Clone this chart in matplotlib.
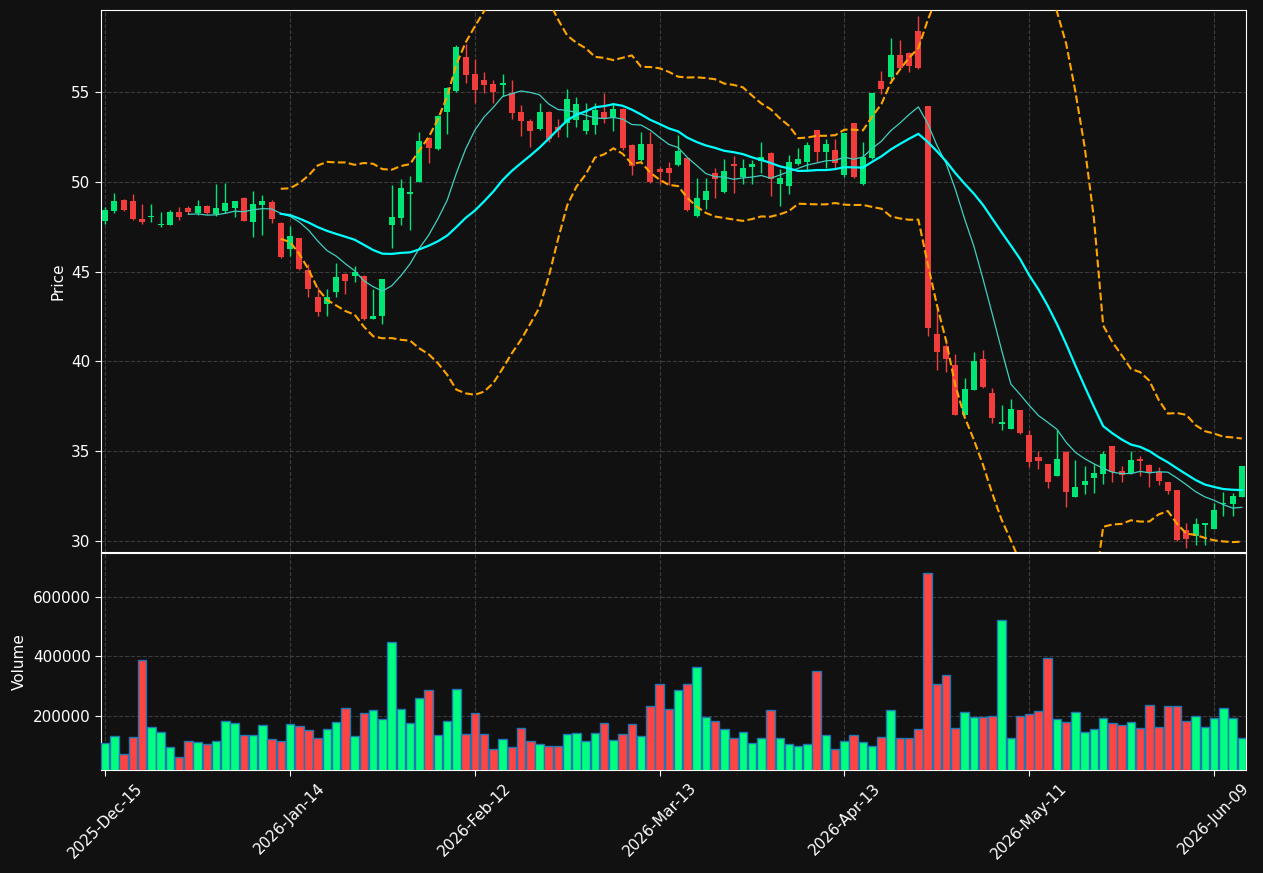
import numpy as np
import pandas as pd
import matplotlib
matplotlib.use("Agg")
import matplotlib.pyplot as plt

# ---------------- data ----------------
opens = [47.82, 48.37, 48.99, 48.93, 47.93, 48.04, 47.61, 47.61, 48.32, 48.54,
         48.24, 48.65, 48.19, 48.39, 48.56, 49.10, 47.76, 48.71, 48.88, 47.71,
         46.26, 46.87, 45.09, 43.59, 43.20, 43.86, 44.87, 44.77, 44.76, 42.38,
         42.54, 47.61, 48.00, 49.32, 50.00, 52.46, 51.84, 53.90, 55.07, 56.95,
         56.00, 55.67, 55.44, 55.41, 54.93, 53.88, 53.40, 52.96, 53.88, 53.03,
         53.29, 53.44, 52.85, 53.18, 53.88, 53.59, 54.04, 52.03, 51.21, 52.10,
         50.73, 50.77, 50.95, 51.31, 48.11, 48.99, 50.47, 49.45, 50.99, 50.25,
         50.84, 51.19, 51.60, 49.90, 49.77, 50.99, 51.12, 52.87, 51.68, 51.75,
         50.36, 53.26, 49.90, 51.34, 55.61, 55.85, 57.06, 57.19, 58.40, 54.22,
         41.53, 40.86, 39.80, 37.03, 38.42, 40.13, 38.24, 36.53, 36.25, 37.29,
         35.90, 34.69, 34.29, 33.64, 34.96, 32.47, 33.12, 33.52, 33.73, 35.29,
         33.90, 33.77, 34.55, 34.23, 33.86, 33.28, 32.84, 30.61, 30.30, 30.91,
         30.69, 32.04, 32.08, 32.47]
highs = [48.61, 49.36, 49.05, 49.30, 48.76, 48.76, 48.32, 48.46, 48.60, 48.65,
         49.00, 48.70, 49.88, 49.92, 48.95, 49.15, 49.49, 49.27, 49.00, 47.75,
         47.54, 46.90, 45.42, 44.13, 44.06, 45.50, 44.90, 45.32, 44.80, 44.02,
         44.61, 49.82, 50.14, 50.35, 52.80, 52.50, 53.70, 55.30, 57.60, 57.70,
         56.82, 56.10, 55.67, 56.00, 55.70, 54.30, 53.53, 54.37, 53.95, 53.50,
         55.15, 54.74, 54.40, 54.37, 54.94, 54.40, 54.10, 52.10, 52.80, 52.80,
         50.85, 51.10, 52.60, 51.35, 50.20, 50.20, 50.80, 51.30, 51.45, 51.30,
         51.20, 52.20, 51.65, 50.70, 51.50, 51.90, 52.20, 52.90, 52.40, 52.40,
         52.75, 53.30, 52.20, 54.95, 56.20, 58.00, 57.90, 57.25, 59.24, 54.25,
         43.00, 41.00, 40.40, 39.06, 40.50, 40.65, 38.50, 37.60, 37.90, 37.30,
         36.20, 35.00, 34.30, 36.17, 35.00, 34.50, 34.20, 34.30, 35.00, 35.30,
         34.20, 35.00, 34.76, 34.30, 34.10, 33.30, 32.85, 31.00, 31.30, 31.00,
         32.10, 32.75, 32.70, 34.20]
lows = [47.65, 48.28, 48.40, 47.87, 47.63, 47.78, 47.50, 47.61, 47.89, 48.21,
        48.15, 48.22, 48.11, 48.28, 48.04, 47.82, 46.94, 47.05, 47.70, 45.75,
        45.87, 45.09, 43.60, 42.53, 42.53, 43.60, 43.75, 44.42, 42.30, 42.35,
        42.07, 46.30, 47.60, 47.30, 50.00, 51.03, 51.80, 52.64, 55.00, 55.50,
        54.40, 54.95, 54.40, 54.80, 53.50, 52.57, 51.92, 52.90, 52.20, 52.50,
        52.51, 53.03, 52.66, 52.66, 53.30, 52.85, 51.80, 50.40, 51.15, 49.95,
        49.90, 49.80, 50.90, 48.40, 48.05, 48.50, 49.10, 49.40, 49.40, 49.90,
        49.90, 50.50, 49.20, 48.63, 49.35, 50.95, 50.60, 51.10, 50.80, 50.70,
        50.30, 50.20, 49.85, 51.30, 54.90, 55.60, 56.30, 56.10, 56.30, 41.43,
        39.50, 39.40, 37.00, 37.00, 38.40, 38.50, 36.60, 36.20, 36.25, 35.95,
        34.10, 34.00, 32.98, 33.60, 31.90, 32.45, 32.60, 32.70, 33.20, 33.30,
        33.30, 33.75, 33.60, 33.00, 33.10, 32.60, 30.00, 29.60, 29.80, 29.80,
        30.65, 31.40, 31.40, 32.45]
closes = [48.43, 48.93, 48.43, 47.93, 47.76, 48.12, 47.67, 48.32, 48.06, 48.30,
          48.65, 48.28, 48.54, 48.82, 48.93, 47.82, 48.76, 48.93, 47.93, 45.81,
          46.98, 45.14, 44.05, 42.75, 43.60, 44.72, 44.49, 44.98, 42.38, 42.53,
          44.59, 48.04, 49.65, 49.43, 52.27, 51.90, 53.66, 55.22, 57.50, 55.96,
          55.13, 55.41, 55.00, 55.50, 53.85, 53.40, 52.85, 53.88, 52.40, 52.88,
          54.59, 54.33, 53.44, 54.00, 53.51, 54.04, 51.88, 50.88, 52.10, 49.97,
          50.55, 50.51, 51.71, 48.45, 49.10, 49.49, 50.17, 50.60, 50.88, 50.77,
          50.99, 51.40, 50.17, 50.21, 51.10, 51.27, 52.05, 51.68, 52.10, 51.03,
          52.73, 50.30, 51.40, 54.94, 55.15, 57.06, 56.35, 56.46, 56.35, 41.88,
          40.54, 40.15, 37.03, 38.46, 40.02, 38.59, 36.87, 36.62, 37.35, 36.03,
          34.42, 34.47, 33.28, 34.56, 32.75, 33.01, 33.34, 33.79, 34.84, 33.86,
          33.67, 34.51, 34.44, 33.77, 33.34, 32.78, 30.06, 30.11, 30.95, 30.99,
          31.73, 32.13, 32.50, 34.18]
volumes = [109700, 133100, 72900, 129800, 387300, 163200, 146500, 96300, 62900, 116400,
           113000, 106400, 116400, 183300, 176600, 136500, 136500, 169900, 123100, 116400,
           173200, 166600, 153200, 126400, 156500, 179900, 226800, 133100, 210000, 220100,
           190000, 447500, 223400, 176600, 260200, 287000, 136500, 183300, 290300, 139800,
           210000, 139800, 89600, 123100, 96300, 159900, 116400, 106400, 99700, 99700,
           139800, 143100, 116400, 143100, 176600, 119700, 139800, 173200, 133100, 233400,
           307000, 223400, 287000, 307000, 363900, 196700, 183300, 156500, 126400, 146500,
           109700, 126400, 220100, 126400, 106400, 99700, 106400, 350500, 136500, 89600,
           116400, 136500, 113000, 99700, 129800, 220100, 126400, 126400, 156500, 678300,
           307000, 337100, 159900, 213400, 196700, 196700, 200000, 521100, 126400, 200000,
           206700, 216700, 394000, 190000, 179900, 213400, 146500, 156500, 193300, 176600,
           169900, 179900, 159900, 236800, 163200, 233400, 233400, 183300, 200000, 163200,
           193300, 226800, 193300, 126400]
tick_labels = ['2025-Dec-15', '2026-Jan-14', '2026-Feb-12', '2026-Mar-13',
               '2026-Apr-13', '2026-May-11', '2026-Jun-09']
tick_step = 20

# ---------------- derived indicators ----------------
close_s = pd.Series(closes)
sma10 = close_s.rolling(10).mean()
sma20 = close_s.rolling(20).mean()
std20 = close_s.rolling(20).std()
bb_up = sma20 + 2 * std20
bb_lo = sma20 - 2 * std20

n = len(closes)
xs = np.arange(n)
o = np.array(opens); c = np.array(closes)
up = c >= o

BG = '#111111'
GREEN = '#00e676'
RED = '#f23d3d'
VGREEN = '#00ff80'
VRED = '#ff4444'

fig = plt.figure(figsize=(12.63, 8.73), dpi=100, facecolor=BG)
ax = fig.add_axes([0.0800, 0.3677, 0.9065, 0.6208], facecolor=BG)
axv = fig.add_axes([0.0800, 0.1180, 0.9065, 0.2486], facecolor=BG, sharex=ax)

# candles
cols = [GREEN if u else RED for u in up]
ax.vlines(xs, lows, highs, colors=cols, linewidth=1.0, zorder=2)
body_bottom = np.minimum(o, c)
body_h = np.maximum(np.abs(c - o), 0.04)
ax.bar(xs, body_h, bottom=body_bottom, width=0.65, color=cols, linewidth=0, zorder=3)

# indicators
ax.plot(xs, sma10, color='#40d0c0', linewidth=0.9, zorder=4)
ax.plot(xs, sma20, color='#00ffff', linewidth=1.6, zorder=4)
ax.plot(xs, bb_up, color='#ffa500', linewidth=1.5, linestyle='--', zorder=5)
ax.plot(xs, bb_lo, color='#ffa500', linewidth=1.5, linestyle='--', zorder=5)

ax.set_ylim(29.39, 59.57)
ax.set_xlim(-0.45, n - 1 + 0.45)
ax.set_yticks([30, 35, 40, 45, 50, 55])
ax.set_ylabel('Price', color='white', fontsize=11)

# volume
vcols = [VGREEN if u else VRED for u in up]
axv.bar(xs, volumes, width=0.92, color=vcols, edgecolor='#1f77b4', linewidth=1.0, zorder=3)
axv.set_ylim(0.3 * min(volumes), 1.1 * max(volumes))
axv.set_yticks([200000, 400000, 600000])
axv.ticklabel_format(axis='y', style='plain')
axv.set_ylabel('Volume', color='white', fontsize=11)

axv.set_xticks(np.arange(len(tick_labels)) * tick_step)
axv.set_xticklabels(tick_labels, rotation=45, ha='center')

for a in (ax, axv):
    a.grid(True, color='#3c3c3c', linestyle='--', linewidth=0.8, zorder=0)
    a.set_axisbelow(True)
    for s in a.spines.values():
        s.set_color('white')
    a.tick_params(colors='white', labelsize=11, length=4)
ax.tick_params(axis='x', labelbottom=False, length=0)

fig.savefig('out.png', dpi=100, facecolor=BG)
